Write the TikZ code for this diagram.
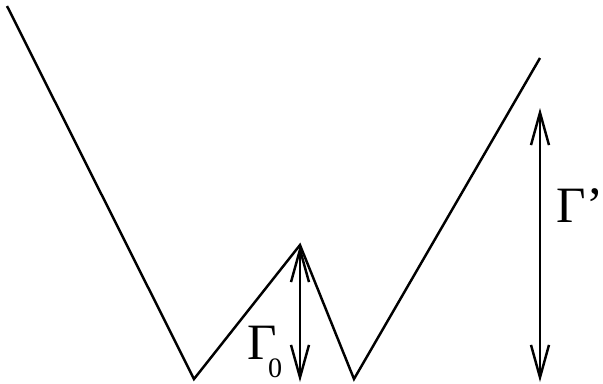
\documentclass[tikz,border=0pt]{standalone}
\usepackage{fontspec}
\setmainfont{Liberation Serif}
\usetikzlibrary{arrows.meta,positioning}

\begin{document}
\begin{tikzpicture}[x=0.02cm, y=-0.02cm,
  wall/.style={line width=1.4pt, line join=miter},
  gap/.style={{Straight Barb[length=6.5mm, width=3.6mm, line width=1.4pt]}-{Straight Barb[length=6.5mm, width=3.6mm, line width=1.4pt]}, line width=1.4pt},
  lbl/.style={font=\fontsize{29}{33}\selectfont, inner sep=0pt}
]
\useasboundingbox (0,0) rectangle (603,383);
\coordinate (tl) at (7,6);
\coordinate (b1) at (194,379);
\coordinate (pk) at (300,245);
\coordinate (b2) at (354,379);
\coordinate (tr) at (540,58);
\coordinate (g0bot) at (300,382);
\coordinate (gptop) at (540,108);
\coordinate (gpbot) at (540,382);

\draw[wall] (tl) -- (b1) -- (pk) -- (b2) -- (tr);

\draw[gap] (pk) -- (g0bot);
\draw[gap] (gptop) -- (gpbot);

\node[lbl] (g0) at (265,352) {Γ\kern-0.18em\raisebox{-0.36em}{\fontsize{16}{18}\selectfont 0}};
\node[lbl] (gp) at (580,206) {Γ’};
\end{tikzpicture}
\end{document}
